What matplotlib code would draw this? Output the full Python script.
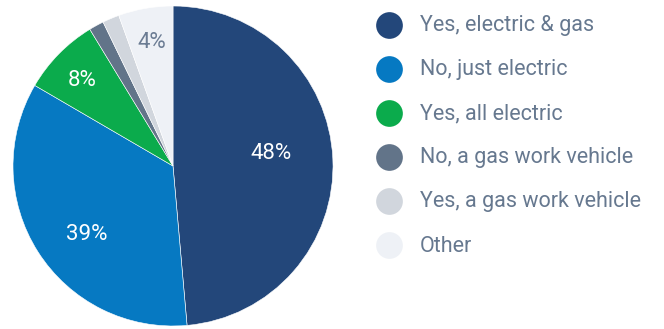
import numpy as np
from matplotlib import pyplot as plt

# slice data (clockwise from 12 o'clock)
categories = ['Yes, electric & gas', 'No, just electric', 'Yes, all electric',
              'No, a gas work vehicle', 'Yes, a gas work vehicle', 'Other']
shares = [48.6, 34.8, 7.9, 1.5, 1.7, 5.5]
pct_labels = ['48%', '39%', '8%', '', '', '4%']

colors = ['#23477a', '#0679c2', '#0bab4c', '#627489', '#d1d6dd', '#eef1f6']
label_colors = ['white', 'white', 'white', 'white', 'white', '#6b7c93']
# label placement: radial distance and angle nudge (deg) from wedge middle
label_dist = [0.62, 0.685, 0.78, 0.7, 0.7, 0.785]
label_nudge = [4.5, 6.0, 1.0, 0, 0, 0]

plt.rcParams['font.family'] = ['Roboto', 'DejaVu Sans']

W, H = 664, 329
fig = plt.figure(figsize=(W / 100, H / 100), dpi=100)

# pie: centre (173,166) px, radius 160 px
cx, cy, r = 173, 166, 160
ax = fig.add_axes([(cx - r) / W, (H - cy - r) / H, 2 * r / W, 2 * r / H])
wedges, _ = ax.pie(shares, colors=colors, startangle=90, counterclock=False,
                   wedgeprops=dict(edgecolor='white', linewidth=0.4))
ax.set_xlim(-1, 1)
ax.set_ylim(-1, 1)
ax.set_aspect('equal')

for w, lab, c, d, n in zip(wedges, pct_labels, label_colors, label_dist, label_nudge):
    if not lab:
        continue
    mid = np.deg2rad((w.theta1 + w.theta2) / 2 + n)
    ax.text(d * np.cos(mid), d * np.sin(mid), lab, color=c, fontsize=16,
            ha='center', va='center')

# legend drawn in pixel coords
lg = fig.add_axes([0, 0, 1, 1])
lg.set_xlim(0, W)
lg.set_ylim(H, 0)
lg.axis('off')
y0, step = 25, 44
for i, (name, col) in enumerate(zip(categories, colors)):
    y = y0 + i * step
    lg.scatter([389], [y], s=370, color=col, linewidths=0)
    lg.text(420, y + 1, name, fontsize=15.5, color='#66788f', va='center', ha='left')

fig.savefig('out.png', dpi=100)
